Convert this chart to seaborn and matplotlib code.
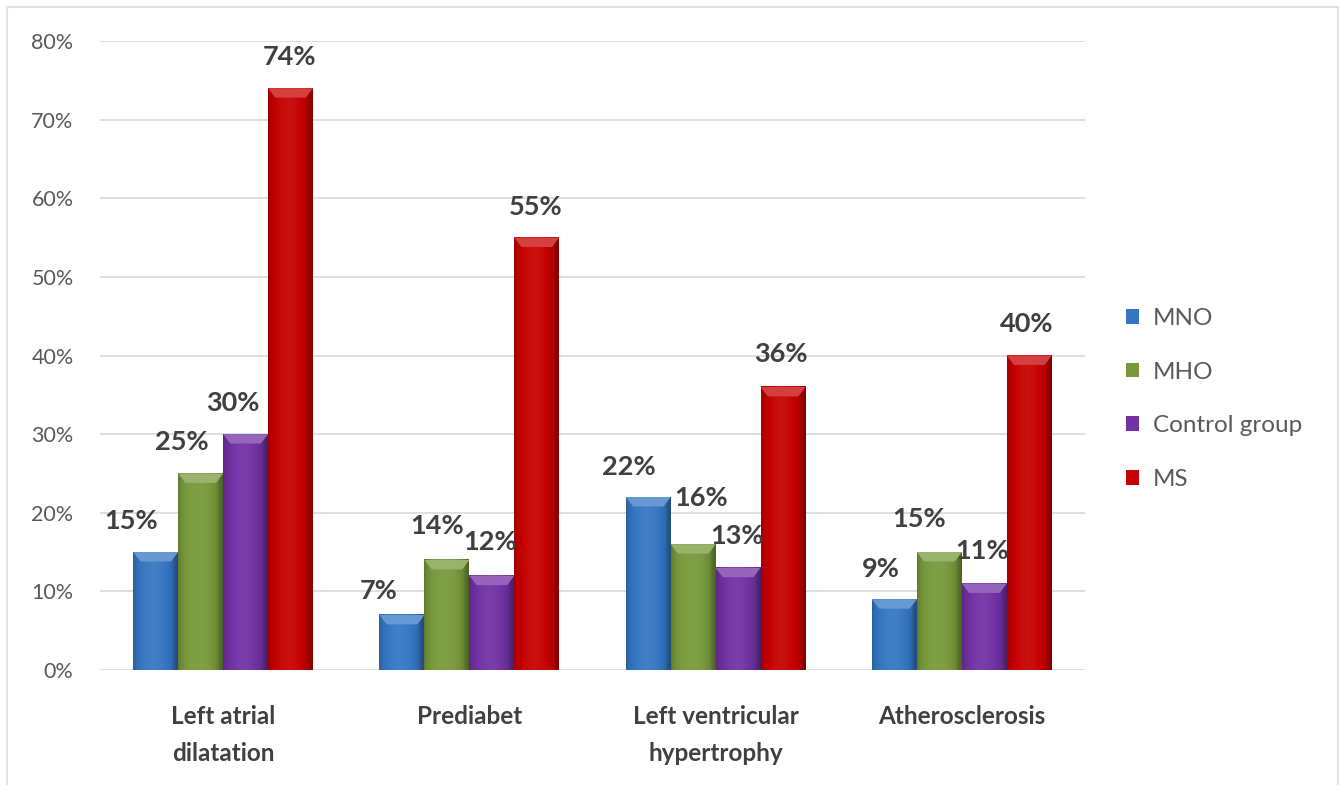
import numpy as np
import pandas as pd
import matplotlib
matplotlib.use("Agg")
import matplotlib.pyplot as plt
from matplotlib.patches import Patch, Rectangle, Polygon
from matplotlib.colors import to_rgb
import seaborn as sns

# ---------------- data ----------------
categories = ["Left atrial\ndilatation", "Prediabet",
              "Left ventricular\nhypertrophy", "Atherosclerosis"]
groups = ["MNO", "MHO", "Control group", "MS"]
mno = [15, 7, 22, 9]
mho = [25, 14, 16, 15]
control = [30, 12, 13, 11]
ms = [74, 55, 36, 40]
y_ticks = [0, 10, 20, 30, 40, 50, 60, 70, 80]
y_tick_labels = [f"{t}%" for t in y_ticks]

# ---------------- style ----------------
colors = ["#3576c2", "#77993b", "#7131a3", "#c60000"]
# label offsets (pixels) relative to bar centre / bar top
label_dx = [[-25, -23, -19, -14],
            [-19, -10, 8, -20],
            [-13, -2, -1, -2],
            [-1, -1, -2, -3]]
label_dy = [[31, 24, 30, 30],
            [31, 34, 46, 33],
            [31, 34, 32, 33],
            [31, 31, 33, 32]]

sns.set_theme(style="white")
plt.rcParams["font.family"] = ["Lato", "DejaVu Sans"]

series = [mno, mho, control, ms]
rows = []
for g, vals in zip(groups, series):
    for c, v in zip(categories, vals):
        rows.append({"category": c, "group": g, "value": v})
df = pd.DataFrame(rows)

W, H = 1340, 785
fig = plt.figure(figsize=(W / 100, H / 100), dpi=100)
ax = fig.add_axes([100 / W, 115 / H, 985 / W, 629 / H])

sns.barplot(data=df, x="category", y="value", hue="group", order=categories,
            hue_order=groups, palette=colors, saturation=1, width=0.73,
            ax=ax, legend=False, zorder=2, edgecolor="none")

PX = 0.72  # points per pixel at dpi 100


def shade(rgb, f):
    rgb = np.array(rgb)
    if f >= 1:
        return rgb + (1 - rgb) * (f - 1)
    return rgb * f


for si, (cont, col) in enumerate(zip(ax.containers, colors)):
    base = np.array(to_rgb(col))
    for ci, bar in enumerate(cont):
        x0, w, h = bar.get_x(), bar.get_width(), bar.get_height()
        t = np.linspace(0, 1, 64)
        prof = 0.78 + 0.28 * np.sin(np.pi * np.clip(t * 1.1, 0, 1)) ** 0.5
        prof = np.where(t > 0.9, prof * (1 - (t - 0.9) * 1.8), prof)
        img = np.array([[np.clip(shade(base, f), 0, 1) for f in prof]])
        ax.imshow(img, extent=(x0, x0 + w, 0, h), aspect="auto",
                  interpolation="bicubic", zorder=3)
        # top bevel highlight
        bh = 1.2
        bw = w * 0.16
        top = Polygon([(x0, h), (x0 + w, h), (x0 + w - bw, h - bh), (x0 + bw, h - bh)],
                      closed=True, facecolor=np.clip(shade(base, 1.25), 0, 1),
                      edgecolor="none", zorder=4)
        ax.add_patch(top)
        # value label
        v = series[si][ci]
        ax.annotate(f"{v}%", xy=(x0 + w / 2, h),
                    xytext=(label_dx[si][ci] * PX, label_dy[si][ci] * PX),
                    textcoords="offset points", ha="center", va="center",
                    fontsize=19.5, fontweight="bold", color="#404040", zorder=5)

ax.set_xlim(-0.5, 3.5)
ax.set_ylim(0, 80)
ax.set_yticks(y_ticks)
ax.set_yticklabels(y_tick_labels)
ax.set_xlabel("")
ax.set_ylabel("")
ax.yaxis.grid(True, color="#d9d9d9", lw=1.2, zorder=0)
ax.set_axisbelow(True)
for s in ax.spines.values():
    s.set_visible(False)
ax.tick_params(axis="y", length=0, pad=19, labelsize=15.5, labelcolor="#595959")
ax.tick_params(axis="x", length=0, pad=25, labelsize=17.5, labelcolor="#404040")
for lab in ax.get_xticklabels():
    lab.set_fontweight("bold")
    lab.set_linespacing(1.75)

handles = [Patch(facecolor=c, edgecolor="none") for c in colors]
fig.legend(handles, groups, loc="center left",
           bbox_to_anchor=(1126 / W, 1 - 399 / H), frameon=False,
           fontsize=17.5, labelcolor="#595959", handlelength=0.55,
           handleheight=0.55, handletextpad=0.55, labelspacing=1.35,
           borderaxespad=0, borderpad=0)

fig.patches.append(Rectangle((7 / W, -0.05), 1331 / W, 1.05 - 7 / H,
                             transform=fig.transFigure, fill=False,
                             edgecolor="#e3e3e3", lw=1.5))

fig.savefig("out.png", dpi=100, facecolor="white")
